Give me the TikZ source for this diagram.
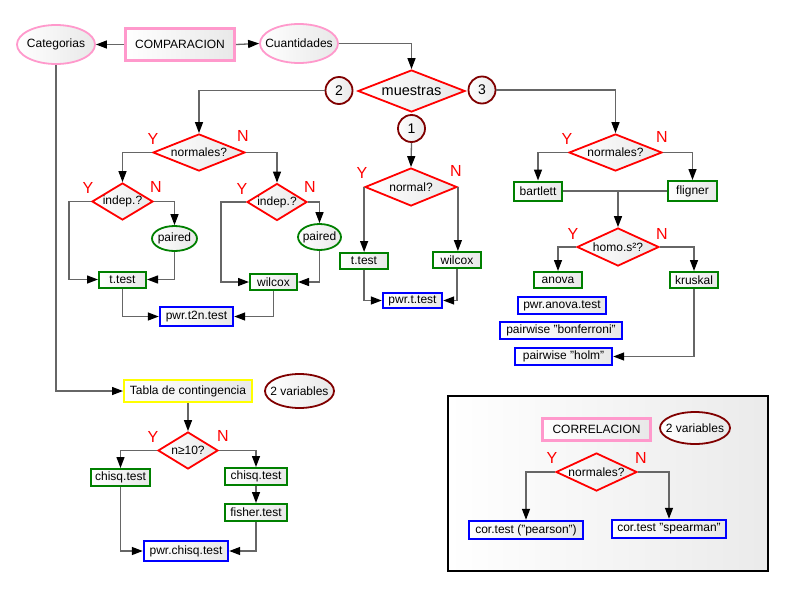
\documentclass[tikz,border=0pt]{standalone}
\usepackage{fontspec}
\setmainfont{Liberation Sans}
\usetikzlibrary{shapes.geometric,arrows.meta}
\definecolor{pinkb}{HTML}{FF99CC}
\definecolor{darkr}{HTML}{800000}
\definecolor{grn}{HTML}{008000}
\definecolor{blu}{HTML}{0000FF}
\definecolor{yel}{HTML}{FFFF00}
\newcommand\zbx[1]{\makebox[0pt]{#1}}
\begin{document}
\begin{tikzpicture}[x=1pt,y=-1pt,
  font=\fontsize{12}{14}\selectfont,
  shd/.style={left color=white,right color=black!9},
  box/.style={rectangle,shd,inner sep=0pt,line width=2pt},
  gbox/.style={box,draw=grn},
  bbox/.style={box,draw=blu,line width=2.4pt},
  dec/.style={diamond,shd,draw=red,line width=1.8pt,inner sep=0pt,aspect=2},
  ell/.style={ellipse,shd,inner sep=0pt,line width=1.8pt},
  num/.style={circle,shd,draw=darkr,line width=1.8pt,minimum size=27pt,inner sep=0pt,font=\fontsize{14}{16}\selectfont},
  yn/.style={text=red,font=\fontsize{16}{18}\selectfont,inner sep=0pt},
  ln/.style={draw=black!60,line width=1.3pt},
  arr/.style={ln,-{Triangle[length=11pt,width=8pt,color=black]}},
]
\useasboundingbox (0,0) rectangle (800,600);
\fill[white] (0,0) rectangle (800,600);

% correlation panel
\node[draw=black,line width=2.5pt,left color=white,right color=black!8,minimum width=320pt,minimum height=175pt,inner sep=0pt] (corr) at (608,483.5) {};

% top
\node[ell,draw=pinkb,minimum width=78pt,minimum height=39pt] (cat) at (56,44.5) {\zbx{Categorias}};
\node[box,draw=pinkb,line width=3pt,minimum width=109pt,minimum height=32pt] (comp) at (180,44.5) {COMPARACION};
\node[ell,draw=pinkb,minimum width=78pt,minimum height=39pt] (cuan) at (299,43.5) {\zbx{Cuantidades}};

\node[dec,minimum width=107pt,minimum height=42pt,font=\fontsize{14.5}{16}\selectfont] (mue) at (411.5,91) {\zbx{muestras}};
\node[num] (c2) at (339,90.5) {2};
\node[num] (c3) at (482,90) {3};
\node[num] (c1) at (411.5,128.5) {1};

% branch 2
\node[dec,minimum width=92pt,minimum height=37pt] (nor1) at (199,152.5) {\zbx{normales?}};
\node[dec,minimum width=61pt,minimum height=37pt] (ind1) at (122.5,201.5) {\zbx{indep.?}};
\node[dec,minimum width=60pt,minimum height=37pt] (ind2) at (277,202) {\zbx{indep.?}};
\node[ell,draw=grn,minimum width=45pt,minimum height=25pt] (pai1) at (174.5,238.5) {\zbx{paired}};
\node[ell,draw=grn,minimum width=43pt,minimum height=26pt] (pai2) at (319.5,237) {\zbx{paired}};
\node[gbox,minimum width=47pt,minimum height=16pt] (tt1) at (122.5,279.5) {t.test};
\node[gbox,minimum width=47pt,minimum height=16pt] (wil1) at (273.5,282) {wilcox};
\node[bbox,minimum width=73pt,minimum height=19pt] (pw1) at (196.5,316.5) {pwr.t2n.test};
\node[yn] (y1) at (153,139) {Y};
\node[yn] (n1) at (243,136) {N};
\node[yn] (y2) at (88,188) {Y};
\node[yn] (n2) at (156,187) {N};
\node[yn] (y3) at (242,189) {Y};
\node[yn] (n3) at (310,187) {N};

% branch 1
\node[dec,minimum width=92pt,minimum height=38pt] (nor2) at (411,187) {\zbx{normal?}};
\node[gbox,minimum width=48pt,minimum height=16pt] (tt2) at (364,261) {t.test};
\node[gbox,minimum width=48pt,minimum height=16pt] (wil2) at (457,260) {wilcox};
\node[bbox,minimum width=59pt,minimum height=15pt] (pw2) at (412.5,300.5) {pwr.t.test};
\node[yn] (y4) at (362,173) {Y};
\node[yn] (n4) at (456,171) {N};

% branch 3
\node[dec,minimum width=93pt,minimum height=37pt] (nor3) at (615.5,152.5) {\zbx{normales?}};
\node[gbox,minimum width=48pt,minimum height=19pt] (bar) at (538,191) {bartlett};
\node[gbox,minimum width=49pt,minimum height=20pt] (fli) at (692.5,191) {fligner};
\node[dec,minimum width=82pt,minimum height=38pt] (hom) at (618,247) {\zbx{homo.s²?}};
\node[gbox,minimum width=48pt,minimum height=16pt] (ano) at (558,280) {anova};
\node[gbox,minimum width=48pt,minimum height=16pt] (kru) at (694,280) {kruskal};
\node[bbox,minimum width=88pt,minimum height=17pt] (pwa) at (562,305.5) {pwr.anova.test};
\node[bbox,minimum width=122pt,minimum height=17pt] (bon) at (561,330.5) {pairwise "bonferroni"};
\node[bbox,minimum width=97pt,minimum height=17pt] (holm) at (563.5,356.5) {pairwise "holm"};
\node[yn] (y5) at (567,139) {Y};
\node[yn] (n5) at (662,137) {N};
\node[yn] (y6) at (573,234) {Y};
\node[yn] (n6) at (662,234) {N};

% categorias
\node[box,draw=yel,minimum width=128pt,minimum height=22pt] (tab) at (188,391) {Tabla de contingencia};
\node[ell,draw=darkr,minimum width=69pt,minimum height=34pt] (var1) at (299.5,391) {\zbx{2 variables}};
\node[dec,minimum width=60pt,minimum height=37pt] (n10) at (188,450.5) {\zbx{n≥10?}};
\node[gbox,minimum width=59pt,minimum height=17pt] (chi1) at (120.5,477.5) {chisq.test};
\node[gbox,minimum width=62pt,minimum height=17pt] (chi2) at (256,476.5) {chisq.test};
\node[gbox,minimum width=62pt,minimum height=17pt] (fis) at (256,512.5) {fisher.test};
\node[bbox,minimum width=84pt,minimum height=20pt] (pwc) at (186,551) {pwr.chisq.test};
\node[yn] (y7) at (153,437) {Y};
\node[yn] (n7) at (223,436) {N};

% correlacion
\node[box,draw=pinkb,line width=3pt,minimum width=108pt,minimum height=22pt] (cor) at (596.5,429.5) {CORRELACION};
\node[ell,draw=darkr,minimum width=70pt,minimum height=32pt] (var2) at (695,428) {\zbx{2 variables}};
\node[dec,minimum width=81pt,minimum height=38pt] (nor4) at (596.5,472) {\zbx{normales?}};
\node[bbox,minimum width=114pt,minimum height=18pt] (pea) at (526,530) {cor.test ("pearson")};
\node[bbox,minimum width=114pt,minimum height=18pt] (spe) at (669,529) {cor.test "spearman"};
\node[yn] (y8) at (552,458) {Y};
\node[yn] (n8) at (641,458) {N};

% connectors
\draw[arr] (comp.west) -- (cat.east);
\draw[arr] (comp.east) -- (cuan.west);
\draw[arr] (cuan.east) -| (mue.north);
\draw[arr] (c2.west) -| (nor1.north);
\draw[arr] (nor1.west) -| (ind1.north);
\draw[arr] (nor1.east) -| (ind2.north);
\draw[arr] (ind1.west) -- ++(-22,0) |- (tt1.west);
\draw[arr] (ind1.east) -| (pai1.north);
\draw[arr] (pai1.south) |- (tt1.east);
\draw[arr] (ind2.west) -- ++(-25,0) |- (wil1.west);
\draw[arr] (ind2.east) -| (pai2.north);
\draw[arr] (pai2.south) |- (wil1.east);
\draw[arr] (tt1.south) |- (pw1.west);
\draw[arr] (wil1.south) |- (pw1.east);

\draw[arr] (c1.south) -- (nor2.north);
\draw[arr] (nor2.west) -- (tt2.north -| nor2.west);
\draw[arr] (nor2.east) -- (wil2.north -| nor2.east);
\draw[arr] (tt2.south) |- (pw2.west);
\draw[arr] (wil2.south) |- (pw2.east);

\draw[arr] (c3.east) -| (nor3.north);
\draw[arr] (nor3.west) -| (bar.north);
\draw[arr] (nor3.east) -| (fli.north);
\draw[ln] (bar.east) -- (fli.west);
\draw[arr] (bar.east -| hom.north) -- (hom.north);
\draw[arr] (hom.west) -| (ano.north);
\draw[arr] (hom.east) -| (kru.north);
\draw[arr] (kru.south) |- (holm.east);

\draw[arr] (cat.south) |- (tab.west);
\draw[arr] (tab.south) -- (n10.north);
\draw[arr] (n10.west) -| (chi1.north);
\draw[arr] (n10.east) -| (chi2.north);
\draw[arr] (chi2.south) -- (fis.north);
\draw[arr] (chi1.south) |- (pwc.west);
\draw[arr] (fis.south) |- (pwc.east);

\draw[arr] (nor4.west) -| (pea.north);
\draw[arr] (nor4.east) -| (spe.north);
\end{tikzpicture}
\end{document}
